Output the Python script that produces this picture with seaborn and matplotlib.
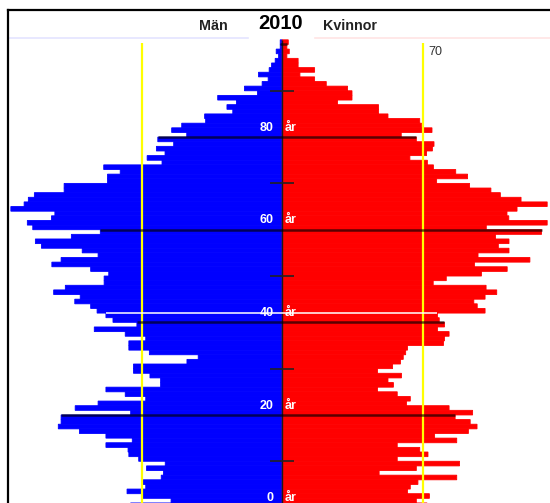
import numpy as np
import pandas as pd
import matplotlib
matplotlib.use('Agg')
import matplotlib.pyplot as plt
import seaborn as sns
from matplotlib import font_manager
from matplotlib.lines import Line2D

# Population per single year of age, 2010 (ages 0-100)
ages = list(range(0, 101))
men = [
    75.4,
    55.3, 69.3, 77.2, 67.9, 69.6, 60.2, 59.1, 67.5, 58.2, 71.4,
    76.3, 76.7, 87.7, 74.6, 87.7, 100.9, 111.4, 110.0, 110.0, 75.4,
    103.0, 91.6, 67.9, 78.1, 87.7, 60.5, 60.5, 65.8, 74.0, 74.0,
    47.4, 41.8, 66.1, 76.3, 76.3, 67.9, 78.1, 93.5, 72.3, 84.2,
    87.7, 92.1, 95.3, 103.2, 100.5, 113.7, 107.9, 88.6, 88.6, 86.3,
    95.3, 114.6, 110.0, 91.6, 99.5, 119.8, 122.8, 104.9, 90.5, 124.1,
    126.8, 114.8, 113.1, 135.0, 128.4, 126.3, 123.3, 108.5, 108.5, 86.9,
    86.9, 80.6, 88.8, 59.8, 67.2, 58.3, 62.6, 54.0, 61.9, 47.5,
    55.0, 50.0, 38.1, 38.6, 24.6, 27.5, 22.8, 32.1, 12.3, 18.8,
    10.0, 7.0, 11.8, 6.5, 5.3, 3.5, 1.8, 3.0, 1.0, 1.0,
]
women = [
    72.0,
    66.7, 73.2, 62.3, 63.7, 67.5, 86.8, 48.2, 66.7, 88.2, 57.2,
    72.5, 68.4, 57.2, 86.8, 75.8, 92.6, 96.9, 93.5, 86.0, 94.7,
    83.0, 61.8, 63.7, 57.2, 47.4, 55.3, 52.6, 59.3, 47.4, 54.9,
    58.8, 60.2, 61.4, 62.3, 80.2, 80.7, 83.0, 77.2, 80.7, 78.1,
    77.2, 100.9, 97.0, 95.3, 100.9, 106.7, 101.4, 75.1, 81.6, 99.1,
    111.9, 95.6, 123.2, 97.4, 112.8, 107.5, 112.8, 106.1, 129.0, 101.5,
    131.8, 112.7, 111.8, 116.8, 131.8, 118.8, 108.5, 103.8, 93.2, 76.8,
    92.2, 86.3, 75.2, 72.2, 63.5, 71.8, 74.7, 75.5, 66.7, 59.2,
    74.5, 69.3, 68.4, 52.6, 47.9, 47.9, 27.5, 34.7, 34.7, 32.5,
    21.9, 16.1, 8.8, 16.1, 7.9, 7.9, 2.3, 3.5, 2.3, 3.0,
]

year = '2010'
left_title = 'Män'
right_title = 'Kvinnor'
label_ages = [0, 20, 40, 60, 80]
tick_ages = [10, 30, 50, 70, 90]
marker_ages = [20, 40, 60, 80, 100]   # dark cohort lines
white_marker_age = 42
ref_level = 70

df = pd.DataFrame({'age': ages, 'men': men, 'women': women})
df['pos'] = df['age'] + 0.5          # bar for age a covers [a, a+1]
df['men_left'] = -df['men']

installed = {f.name for f in font_manager.fontManager.ttflist}
narrow = 'Liberation Sans Narrow' in installed
narrow_fam = ['Liberation Sans Narrow', 'Liberation Sans', 'DejaVu Sans']

fig = plt.figure(figsize=(5.5, 5.03), dpi=100)
ax = fig.add_axes([0, 0, 1, 1])

sns.barplot(data=df, x='men_left', y='pos', orient='y', native_scale=True,
            color='#0000ff', saturation=1, width=1, errorbar=None,
            linewidth=0.6, edgecolor='#0000ff', ax=ax)
sns.barplot(data=df, x='women', y='pos', orient='y', native_scale=True,
            color='#ff0000', saturation=1, width=1, errorbar=None,
            linewidth=0.6, edgecolor='#ff0000', ax=ax)
# no pixel snapping, otherwise thin gaps show up between the bars
for p in ax.patches:
    p.set_snap(False)

# center divider
ax.vlines(0, 0, ages[-1] + 1, color='#1a1a1a', lw=1, zorder=3)

# reference lines at 70
ax.vlines([-ref_level, ref_level], 0, 100.3, color='#ffff00', lw=1.6, zorder=3)
ax.text(ref_level + 2.5, 98.3, str(ref_level), ha='left', va='center',
        fontsize=9, color='#333333', family=['Liberation Sans', 'DejaVu Sans'])

# cohort lines, across the bar just below
for a in marker_ages:
    ax.hlines(a, -men[a - 1], women[a - 1], color='black', alpha=0.65, lw=1.8, zorder=4)
ax.hlines(white_marker_age, -men[white_marker_age - 1], women[white_marker_age - 1],
          color='white', lw=1.1, zorder=4)

# small ticks at the center
ax.hlines(tick_ages, -6, 6, color='#222222', lw=1.2, zorder=4)

# age labels
lab_size = 10.5 if narrow else 9
for a in label_ages:
    ax.text(-4.4, a + 2.0, str(a), ha='right', va='center', color='white',
            fontsize=lab_size, fontweight='bold', family=narrow_fam, zorder=5)
    ax.text(1.0, a + 2.0, 'år', ha='left', va='center', color='white',
            fontsize=lab_size, fontweight='bold', family=narrow_fam, zorder=5)

ax.set_xlim(-140.4, 133.2)
ax.set_ylim(0.99, 109.6)
ax.axis('off')

# header
fig.text(213 / 550, 1 - 25.5 / 503, left_title, ha='center', va='center',
         fontsize=10.3, fontweight='bold', color='#222222',
         family=['Liberation Sans', 'DejaVu Sans'])
fig.text(350 / 550, 1 - 25.5 / 503, right_title, ha='center', va='center',
         fontsize=10.3, fontweight='bold', color='#222222',
         family=['Liberation Sans', 'DejaVu Sans'])
fig.text(281 / 550, 1 - 24 / 503, year, ha='center', va='center',
         fontsize=17.5 if narrow else 14.5, fontweight='bold', color='black',
         family=narrow_fam)

# faint header rules and frame
hy = 1 - 38 / 503
fig.add_artist(Line2D([9 / 550, 248 / 550], [hy, hy], color='#e4e4ff', lw=1.2))
fig.add_artist(Line2D([315 / 550, 1], [hy, hy], color='#ffe4e4', lw=1.2))
fy = 1 - 10 / 503
fx = 7.5 / 550
fig.add_artist(Line2D([fx, fx], [0, fy], color='black', lw=1.6))
fig.add_artist(Line2D([fx, 1], [fy, fy], color='black', lw=1.6))

fig.savefig('out.png', dpi=100)
